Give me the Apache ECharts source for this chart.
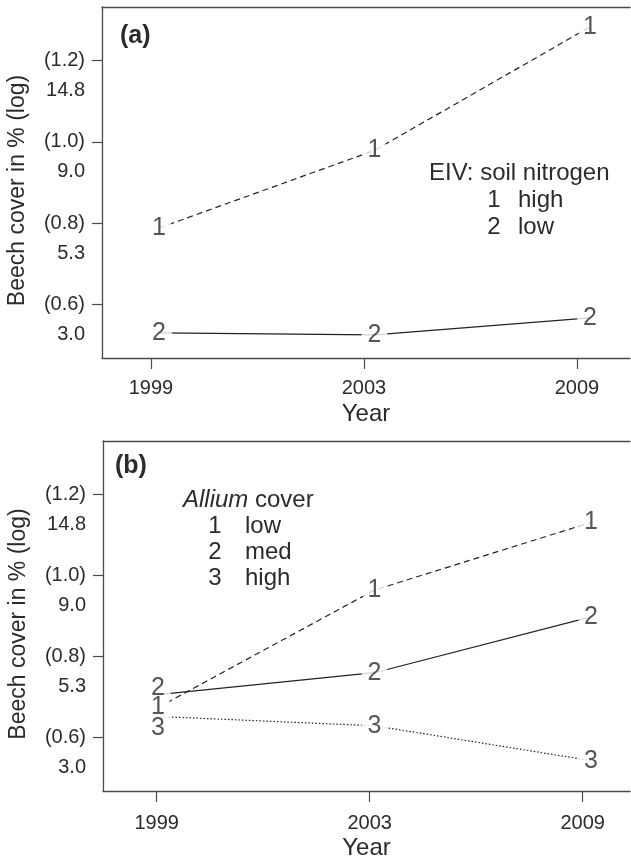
<!DOCTYPE html>
<html>
<head>
<meta charset="utf-8">
<script src="https://cdn.jsdelivr.net/npm/echarts@6/dist/echarts.min.js"></script>
<style>
html, body { margin: 0; padding: 0; background: #fff; }
#chart { width: 631px; height: 858px; }
</style>
</head>
<body>
<div id="chart"></div>
<script>
// x categories
const years = ['1999', '2003', '2009'];

// y ticks (log10 cover) and the matching cover in %
const yTicks = [0.6, 0.8, 1.0, 1.2];
const yTickLog = ['(0.6)', '(0.8)', '(1.0)', '(1.2)'];
const yTickPct = ['3.0', '5.3', '9.0', '14.8'];

// panel (a): EIV soil nitrogen
const nitrogenGroups = ['high', 'low'];
const nitrogenHigh = [0.788, 0.979, 1.283];
const nitrogenLow = [0.530, 0.525, 0.567];

// panel (b): Allium cover
const alliumGroups = ['low', 'med', 'high'];
const alliumLow = [0.674, 0.964, 1.131];
const alliumMed = [0.706, 0.760, 0.898];
const alliumHigh = [0.652, 0.629, 0.543];

const FONT = '"Liberation Sans", Arial, Helvetica, sans-serif';
const INK = '#2b2b2b';
const FRAME = '#4a4a4a';

const DASHED = [6, 4];
const DOTTED = [1.5, 2];

const frameLine = { show: true, lineStyle: { color: FRAME, width: 1.3 } };

function yAxis(grid) {
    return {
        gridIndex: grid, type: 'value', min: 0.468, max: 1.332,
        axisLine: frameLine,
        splitLine: { show: false },
        axisTick: { show: true, length: 10, customValues: yTicks, lineStyle: { color: FRAME, width: 1.2 } },
        axisLabel: {
            customValues: yTicks, hideOverlap: false, margin: 17, align: 'right',
            formatter: function (v) {
                let i = yTicks.findIndex(t => Math.abs(t - v) < 1e-6);
                return '{a| }\n{a|' + yTickLog[i] + '}\n{a|' + yTickPct[i] + '}';
            },
            rich: { a: { fontSize: 20, lineHeight: 30, color: INK, fontFamily: FONT, align: 'right' } }
        },
        // right padding pushes the rotated title a little down, as in the original
        name: 'Beech cover in % (log)', nameLocation: 'middle', nameGap: 73,
        nameTextStyle: { fontSize: 23, color: INK, fontFamily: FONT, padding: [0, 16, 0, 0] }
    };
}

// visible year axis (bottom side of the frame)
function yearAxis(grid, min, max, labelMargin, titleGap) {
    return {
        gridIndex: grid, type: 'value', min: min, max: max, position: 'bottom',
        axisLine: frameLine,
        splitLine: { show: false },
        axisTick: { show: true, length: 11, customValues: [1, 2, 3], lineStyle: { color: FRAME, width: 1.2 } },
        axisLabel: {
            customValues: [1, 2, 3], hideOverlap: false, margin: labelMargin,
            formatter: v => years[Math.round(v) - 1],
            fontSize: 20, color: INK, fontFamily: FONT
        },
        name: 'Year', nameLocation: 'middle', nameGap: titleGap,
        nameTextStyle: { fontSize: 24, color: INK, fontFamily: FONT }
    };
}

// axis the points are placed on (they sit a bit right of the ticks); only its line shows, as the top of the frame
function pointAxis(grid, min, max) {
    return {
        gridIndex: grid, type: 'value', min: min, max: max, position: 'top',
        axisLine: frameLine, axisTick: { show: false }, axisLabel: { show: false }, splitLine: { show: false }
    };
}

function lineSeries(panel, values, dash) {
    return {
        type: 'line', xAxisIndex: panel * 2 + 1, yAxisIndex: panel,
        data: values.map((v, i) => [i + 1, v]),
        symbol: 'none', silent: true, z: 2,
        lineStyle: { color: '#222', width: 1.2, type: dash }
    };
}

// white disc cuts the line around each point, the group number sits on top
function numberSeries(panel, values, num, offsets) {
    offsets = offsets || [];
    return {
        type: 'scatter', xAxisIndex: panel * 2 + 1, yAxisIndex: panel,
        data: values.map((v, i) => ({ value: [i + 1, v], label: { offset: [0, offsets[i] || 0] } })),
        symbol: 'circle', symbolSize: 26, silent: true, z: 3,
        itemStyle: { color: '#fff' },
        label: { show: true, position: 'inside', formatter: String(num), fontSize: 25, color: INK, fontFamily: FONT },
        emphasis: { disabled: true }
    };
}

function legendText(title, groups, titleX, titleY, numX, textX, step) {
    let out = [{
        type: 'text', silent: true,
        style: {
            text: title, x: titleX, y: titleY, textAlign: 'left', textVerticalAlign: 'middle',
            fontSize: 24, fontFamily: FONT, fill: INK,
            rich: { i: { fontSize: 24, fontStyle: 'italic', fontFamily: FONT, fill: INK } }
        }
    }];
    groups.forEach(function (g, i) {
        let y = titleY + (i + 1) * step;
        out.push({ type: 'text', silent: true, style: { text: String(i + 1), x: numX, y: y, textAlign: 'center', textVerticalAlign: 'middle', fontSize: 24, fontFamily: FONT, fill: INK } });
        out.push({ type: 'text', silent: true, style: { text: g, x: textX, y: y, textAlign: 'left', textVerticalAlign: 'middle', fontSize: 24, fontFamily: FONT, fill: INK } });
    });
    return out;
}

function panelTag(text, x, y) {
    return { type: 'text', silent: true, style: { text: text, x: x, y: y, textAlign: 'left', textVerticalAlign: 'middle', fontSize: 25, fontWeight: 'bold', fontFamily: FONT, fill: INK } };
}

const chart = echarts.init(document.getElementById('chart'), null, { renderer: 'canvas' });

const option = {
    animation: false,
    backgroundColor: '#fff',
    grid: [
        { left: 102, top: 7, width: 528, height: 351, outerBoundsMode: 'none' },
        { left: 103, top: 441, width: 527, height: 350, outerBoundsMode: 'none' }
    ],
    xAxis: [
        yearAxis(0, 0.7700, 3.2489, 20, 44),
        pointAxis(0, 0.7355, 3.1856),
        yearAxis(1, 0.7479, 3.2221, 22, 45),
        pointAxis(1, 0.7460, 3.1802)
    ],
    yAxis: [yAxis(0), yAxis(1)],
    series: [
        lineSeries(0, nitrogenHigh, DASHED),
        lineSeries(0, nitrogenLow, 'solid'),
        numberSeries(0, nitrogenHigh, 1),
        numberSeries(0, nitrogenLow, 2),

        lineSeries(1, alliumLow, DASHED),
        lineSeries(1, alliumMed, 'solid'),
        lineSeries(1, alliumHigh, DOTTED),
        numberSeries(1, alliumLow, 1),
        numberSeries(1, alliumMed, 2, [-6]),
        numberSeries(1, alliumHigh, 3, [12])
    ],
    graphic: [
        panelTag('(a)', 120, 36),
        panelTag('(b)', 115, 466)
    ]
        .concat(legendText('EIV: soil nitrogen', nitrogenGroups, 429, 173, 494, 518, 27))
        .concat(legendText('{i|Allium} cover', alliumGroups, 183, 500, 215, 245, 26))
};

chart.setOption(option);
</script>
</body>
</html>
